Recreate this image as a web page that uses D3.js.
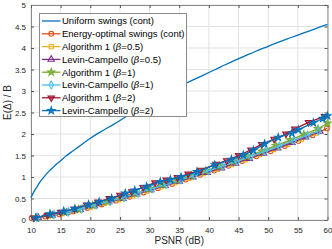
<!DOCTYPE html>
<html>
<head>
<meta charset="utf-8">
<script src="https://cdn.jsdelivr.net/npm/d3@7"></script>
<style>
  body { margin: 0; background: #fff; }
  text { font-family: "Liberation Sans", Arial, sans-serif; }
</style>
</head>
<body>
<div id="chart"></div>
<script>
// PSNR (dB) vs E(delta)/B
var uniformX = [10, 10.5, 11, 11.5, 12, 13, 14, 15, 16, 17, 18, 20, 22, 24, 26, 28, 30, 32, 34, 36, 38, 40, 42, 44, 46, 48, 50, 52, 54, 56, 58, 60];
var uniformY = [0.52, 0.66, 0.77, 0.88, 0.97, 1.13, 1.26, 1.38, 1.5, 1.6, 1.7, 1.9, 2.07, 2.23, 2.4, 2.56, 2.72, 2.87, 3.02, 3.17, 3.3, 3.43, 3.56, 3.69, 3.81, 3.93, 4.04, 4.15, 4.25, 4.35, 4.45, 4.55];

var energyX = [10.1, 12.4, 14.8, 17.1, 19.5, 21.9, 24.3, 26.6, 29, 31.4, 33.8, 36.1, 38.5, 40.9, 43.3, 45.6, 48, 50.4, 52.8, 55.1, 57.5, 59.9];
var energyY = [0.04, 0.08, 0.13, 0.2, 0.28, 0.36, 0.45, 0.54, 0.64, 0.74, 0.84, 0.94, 1.05, 1.15, 1.26, 1.37, 1.48, 1.6, 1.72, 1.84, 1.97, 2.13];

var alg05X = [10.6, 12.9, 15.3, 17.6, 20, 22.4, 24.8, 27.1, 29.5, 31.9, 34.3, 36.6, 39, 41.4, 43.8, 46.1, 48.5, 50.9, 53.3, 55.6, 58];
var alg05Y = [0.05, 0.09, 0.15, 0.22, 0.3, 0.39, 0.47, 0.56, 0.67, 0.77, 0.87, 0.97, 1.08, 1.18, 1.29, 1.4, 1.52, 1.64, 1.76, 1.88, 2.02];

var lc05X = [11.2, 13.6, 16, 18.3, 20.7, 23.1, 25.5, 27.8, 30.2, 32.6, 35, 37.3, 39.7, 42.1, 44.5, 46.8, 49.2, 51.6, 54, 56.3, 58.7];
var lc05Y = [0.06, 0.11, 0.17, 0.24, 0.33, 0.42, 0.5, 0.6, 0.7, 0.8, 0.9, 1.0, 1.1, 1.21, 1.32, 1.43, 1.55, 1.67, 1.8, 1.93, 2.06];

var alg1X = [10.9, 13.3, 15.7, 18, 20.4, 22.8, 25.2, 27.5, 29.9, 32.3, 34.7, 37, 39.4, 41.8, 44.2, 46.5, 48.9, 51.3, 53.7, 56, 58.4, 60];
var alg1Y = [0.05, 0.12, 0.18, 0.25, 0.34, 0.43, 0.52, 0.62, 0.72, 0.82, 0.93, 1.03, 1.14, 1.25, 1.36, 1.48, 1.6, 1.73, 1.86, 1.99, 2.12, 2.25];

var lc1X = [11, 13.9, 16.3, 18.6, 21, 23.4, 25.8, 28.1, 30.5, 32.9, 35.3, 37.6, 40, 42.4, 44.8, 47.1, 49.5, 51.9, 54.3, 56.6, 58.5];
var lc1Y = [0.06, 0.13, 0.19, 0.26, 0.35, 0.44, 0.53, 0.63, 0.73, 0.83, 0.94, 1.04, 1.15, 1.26, 1.37, 1.49, 1.6, 1.72, 1.85, 1.97, 2.07];

var alg2X = [10.5, 12.8, 15, 17.3, 19.4, 21.3, 23.2, 25, 27, 28.9, 30.9, 32.8, 34.7, 36.5, 38.6, 41.2, 43, 45, 47.1, 48.9, 51, 53, 54.5, 56.8, 59.5];
var alg2Y = [0.05, 0.11, 0.18, 0.26, 0.35, 0.42, 0.5, 0.58, 0.66, 0.76, 0.87, 0.93, 0.99, 1.07, 1.16, 1.3, 1.38, 1.5, 1.63, 1.76, 1.88, 2.0, 2.12, 2.27, 2.41];

var lc2X = [10.8, 13.2, 15.5, 17.4, 19.7, 21.5, 23.6, 25.9, 27.5, 29.5, 31.8, 33.5, 35.3, 38, 41, 43.8, 45.8, 47.5, 49.4, 51.7, 54, 55.1, 57.6, 59.2, 60];
var lc2Y = [0.05, 0.14, 0.2, 0.26, 0.36, 0.42, 0.5, 0.62, 0.69, 0.78, 0.89, 0.94, 1.0, 1.12, 1.28, 1.41, 1.51, 1.62, 1.77, 1.92, 2.02, 2.1, 2.26, 2.36, 2.42];

var seriesNames = ["Uniform swings (cont)", "Energy-optimal swings (cont)", "Algorithm 1 (\u03b2=0.5)", "Levin-Campello (\u03b2=0.5)",
  "Algorithm 1 (\u03b2=1)", "Levin-Campello (\u03b2=1)", "Algorithm 1 (\u03b2=2)", "Levin-Campello (\u03b2=2)"];
var seriesX = [uniformX, energyX, alg05X, lc05X, alg1X, lc1X, alg2X, lc2X];
var seriesY = [uniformY, energyY, alg05Y, lc05Y, alg1Y, lc1Y, alg2Y, lc2Y];
var colors = ["#0072BD", "#D95319", "#EDB120", "#7E2F8E", "#77AC30", "#4DBEEE", "#A2142F", "#0072BD"];
var markers = [null, d3.symbolCircle, d3.symbolSquare, d3.symbolTriangle, d3.symbolStar, d3.symbolDiamond, "down", d3.symbolStar];

var xTicks = [10, 15, 20, 25, 30, 35, 40, 45, 50, 55, 60];
var yTicks = [0, 0.5, 1, 1.5, 2, 2.5, 3, 3.5, 4, 4.5, 5];

var svgwidth = 332, svgheight = 249;
var margin = { top: 5, bottom: 29, right: 4.5, left: 31 };
var width = svgwidth - margin.left - margin.right;
var height = svgheight - margin.top - margin.bottom;

var svg = d3.select("#chart").append("svg")
  .attr("width", svgwidth)
  .attr("height", svgheight)
  .style("background", "#fff");

var chartGroup = svg.append("g")
  .attr("transform", `translate(${margin.left}, ${margin.top})`);

var xscale = d3.scaleLinear().domain([10, 60]).range([0, width]);
var yscale = d3.scaleLinear().domain([0, 5]).range([height, 0]);

// grid
chartGroup.append("g").selectAll("line.gx")
  .data(xTicks).enter().append("line")
  .attr("x1", d => xscale(d)).attr("x2", d => xscale(d))
  .attr("y1", 0).attr("y2", height)
  .attr("stroke", "#e3e3e3").attr("stroke-width", 1);
chartGroup.append("g").selectAll("line.gy")
  .data(yTicks).enter().append("line")
  .attr("x1", 0).attr("x2", width)
  .attr("y1", d => yscale(d)).attr("y2", d => yscale(d))
  .attr("stroke", "#e3e3e3").attr("stroke-width", 1);

// axes
function styleAxis(g) {
  g.select(".domain").attr("stroke", "#8a8a8a");
  g.selectAll(".tick line").attr("stroke", "#555");
  g.selectAll(".tick text").attr("fill", "#262626").style("font-size", "8px")
    .style("font-family", "'Liberation Sans', Arial, sans-serif");
}
var fmt = d => String(d);
var xaxis = d3.axisBottom(xscale).tickValues(xTicks).tickFormat(fmt).tickSizeInner(-3).tickSizeOuter(0).tickPadding(7);
var yaxis = d3.axisLeft(yscale).tickValues(yTicks).tickFormat(fmt).tickSizeInner(-3).tickSizeOuter(0).tickPadding(5);
chartGroup.append("g").attr("transform", `translate(0, ${height})`).call(xaxis).call(styleAxis);
chartGroup.append("g").call(yaxis).call(styleAxis);
chartGroup.append("g").call(d3.axisTop(xscale).tickValues(xTicks).tickSizeInner(-3).tickSizeOuter(0).tickFormat(""))
  .call(styleAxis);
chartGroup.append("g").attr("transform", `translate(${width}, 0)`)
  .call(d3.axisRight(yscale).tickValues(yTicks).tickSizeInner(-3).tickSizeOuter(0).tickFormat(""))
  .call(styleAxis);

function markerSize(m) {
  return m === d3.symbolStar ? 16 : 18;
}
function markerPath(m) {
  if (m === "down") return d3.symbol().type(d3.symbolTriangle).size(markerSize(m))();
  return d3.symbol().type(m).size(markerSize(m))();
}
function markerTransform(m, x, y) {
  return m === "down" ? `translate(${x},${y}) rotate(180)` : `translate(${x},${y})`;
}

var line = d3.line().x(d => xscale(d[0])).y(d => yscale(d[1]));

seriesNames.forEach(function(name, i) {
  var pts = seriesX[i].map((x, k) => [x, seriesY[i][k]]);
  chartGroup.append("path")
    .datum(pts)
    .attr("d", line.curve(i === 0 ? d3.curveMonotoneX : d3.curveLinear))
    .attr("fill", "none")
    .attr("stroke", colors[i])
    .attr("stroke-width", 1.3);
  if (markers[i]) {
    chartGroup.append("g").selectAll("path")
      .data(pts).enter().append("path")
      .attr("d", markerPath(markers[i]))
      .attr("transform", d => markerTransform(markers[i], xscale(d[0]), yscale(d[1])))
      .attr("fill", markers[i] === d3.symbolStar || markers[i] === "down" ? colors[i] : "none")
      .attr("fill-opacity", 0.6)
      .attr("stroke", colors[i])
      .attr("stroke-width", 1.1);
  }
});

// legend
var legend = svg.append("g").attr("transform", "translate(39.5, 13.5)");
legend.append("rect")
  .attr("width", 147).attr("height", 103)
  .attr("fill", "#fff").attr("stroke", "#8a8a8a").attr("stroke-width", 1);
seriesNames.forEach(function(name, i) {
  var y = 7.5 + i * 12.8;
  var row = legend.append("g").attr("transform", `translate(0, ${y})`);
  row.append("line").attr("x1", 2.5).attr("x2", 21).attr("y1", 0).attr("y2", 0)
    .attr("stroke", colors[i]).attr("stroke-width", 1.3);
  if (markers[i]) {
    row.append("path")
      .attr("d", markerPath(markers[i]))
      .attr("transform", markerTransform(markers[i], 11.75, 0))
      .attr("fill", markers[i] === d3.symbolStar || markers[i] === "down" ? colors[i] : "none")
      .attr("fill-opacity", 0.6)
      .attr("stroke", colors[i]).attr("stroke-width", 1.1);
  }
  var t = row.append("text").attr("x", 22.5).attr("y", 3.4)
    .style("font-size", "9.5px").attr("fill", "#000");
  var m = name.match(/^(.*\()\u03b2(=.*)$/);
  if (m) {
    t.append("tspan").text(m[1]);
    t.append("tspan").style("font-style", "italic").style("font-family", "'DejaVu Serif', serif").text("\u03b2");
    t.append("tspan").text(m[2]);
  } else {
    t.text(name);
  }
});

// axis labels
svg.append("text")
  .attr("x", margin.left + width / 2).attr("y", 244)
  .attr("text-anchor", "middle")
  .style("font-size", "10px").attr("fill", "#262626")
  .text("PSNR (dB)");
svg.append("text")
  .attr("transform", `translate(11, ${margin.top + height / 2 - 10}) rotate(-90)`)
  .attr("text-anchor", "middle")
  .style("font-size", "10px").attr("fill", "#262626")
  .text("E(\u0394) / B");
</script>
</body>
</html>
